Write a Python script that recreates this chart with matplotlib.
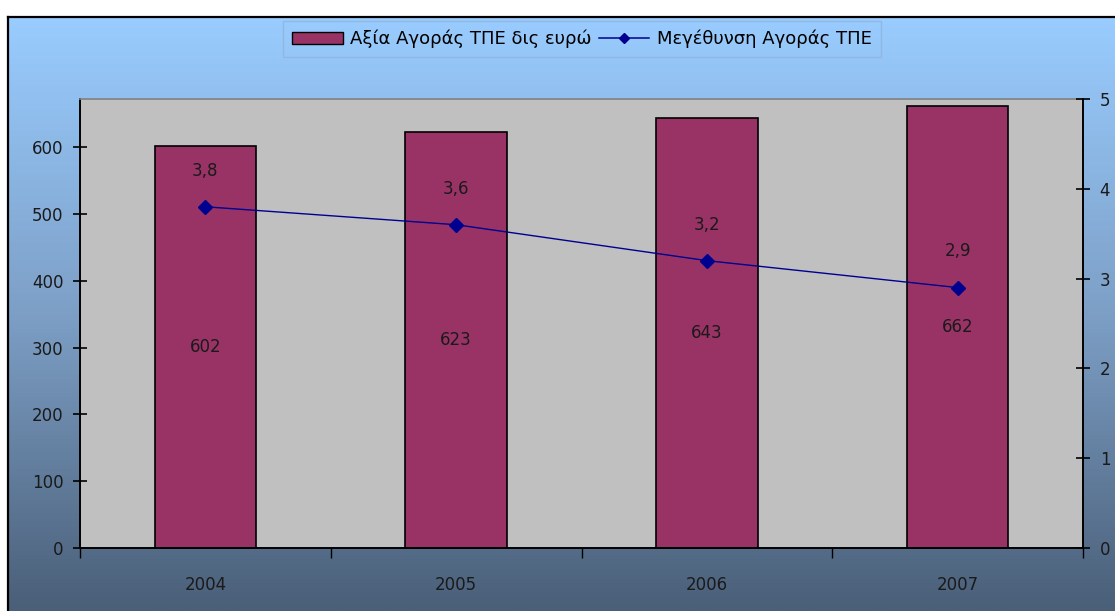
import matplotlib
matplotlib.use('Agg')
import matplotlib.pyplot as plt
import numpy as np
from matplotlib.colors import LinearSegmentedColormap
from matplotlib.patches import Patch
from matplotlib.lines import Line2D

plt.rcParams['font.family'] = ['DejaVu Sans']

# data
years = ['2004', '2005', '2006', '2007']
market_value = [602, 623, 643, 662]          # Αξία Αγοράς ΤΠΕ δις ευρώ
growth = [3.8, 3.6, 3.2, 2.9]                # Μεγέθυνση Αγοράς ΤΠΕ
growth_labels = ['3,8', '3,6', '3,2', '2,9']
bar_name = 'Αξία Αγοράς ΤΠΕ δις ευρώ'
line_name = 'Μεγέθυνση Αγοράς ΤΠΕ'

bar_color = '#993366'
line_color = '#000090'
txt = '#1a1a1a'
fs = 12

fig = plt.figure(figsize=(11.15, 6.11), dpi=100)
fig.patch.set_facecolor('white')

# gradient chart area background
W, H = 1115, 611
bg = fig.add_axes([8 / W, 0, 1 - 8 / W, (H - 17) / H])
cmap = LinearSegmentedColormap.from_list('bg', ['#99ccff', '#7d9fc6', '#4a5f78'])
bg.imshow(np.linspace(0, 1, 256).reshape(-1, 1), aspect='auto', cmap=cmap,
          extent=[0, 1, 0, 1])
bg.set_xticks([])
bg.set_yticks([])
for s in ['right', 'bottom']:
    bg.spines[s].set_visible(False)
for s in ['left', 'top']:
    bg.spines[s].set_linewidth(1.6)
    bg.spines[s].set_color('black')

# plot area
ax = fig.add_axes([80 / W, 1 - 548 / H, (1083 - 80) / W, (548 - 99) / H])
ax.set_facecolor('#c0c0c0')
x = np.arange(len(years))
ax.bar(x, market_value, width=0.405, color=bar_color,
       edgecolor='black', linewidth=1.2, zorder=2)
ax.set_xlim(-0.5, len(years) - 0.5)
ax.set_ylim(0, 672)
ax.set_yticks(range(0, 700, 100))
for xi, v in zip(x, market_value):
    ax.text(xi, v / 2, str(v), ha='center', va='center', fontsize=fs,
            color=txt, zorder=4)

# category ticks at boundaries, labels at centres
ax.set_xticks(np.arange(-0.5, len(years), 1.0))
ax.set_xticklabels([])
ax.set_xticks(x, minor=True)
ax.set_xticklabels(years, minor=True)
ax.tick_params(axis='x', which='major', direction='out', length=7,
               width=1, color='black')
ax.tick_params(axis='x', which='minor', length=0, pad=20, labelsize=fs,
               labelcolor=txt)
ax.tick_params(axis='y', direction='inout', length=10, width=1.2,
               pad=7, labelsize=fs, labelcolor=txt)

for s in ['left', 'bottom']:
    ax.spines[s].set_linewidth(1.4)
    ax.spines[s].set_color('black')
ax.spines['top'].set_color('#808080')
ax.spines['top'].set_linewidth(1.2)
ax.spines['right'].set_visible(False)

ax2 = ax.twinx()
ax2.plot(x, growth, color=line_color, linewidth=1.0, marker='D',
         markersize=7, zorder=3)
ax2.set_ylim(0, 5)
ax2.set_yticks(range(0, 6))
ax2.tick_params(axis='y', direction='inout', length=10, width=1.2,
                pad=7, labelsize=fs, labelcolor=txt)
for s in ['left', 'top', 'bottom']:
    ax2.spines[s].set_visible(False)
ax2.spines['right'].set_linewidth(1.4)
ax2.spines['right'].set_color('black')
for xi, v, lab in zip(x, growth, growth_labels):
    ax2.annotate(lab, (xi, v), xytext=(0, 26), textcoords='offset points',
                 ha='center', va='center', fontsize=fs, color=txt)

# legend
handles = [Patch(facecolor=bar_color, edgecolor='black', linewidth=1),
           Line2D([0], [0], color=line_color, linewidth=1.1, marker='D',
                  markersize=5)]
leg = fig.legend(handles, [bar_name, line_name], ncol=2,
                 loc='center', bbox_to_anchor=(582 / W, 1 - 39 / H),
                 fontsize=13, frameon=True, fancybox=False,
                 handlelength=2.8, handletextpad=0.4, columnspacing=0.4,
                 borderpad=0.5)
leg.get_frame().set_facecolor('none')
leg.get_frame().set_edgecolor('#8fb4d9')
leg.get_frame().set_linewidth(1)

fig.savefig('out.png', dpi=100)
